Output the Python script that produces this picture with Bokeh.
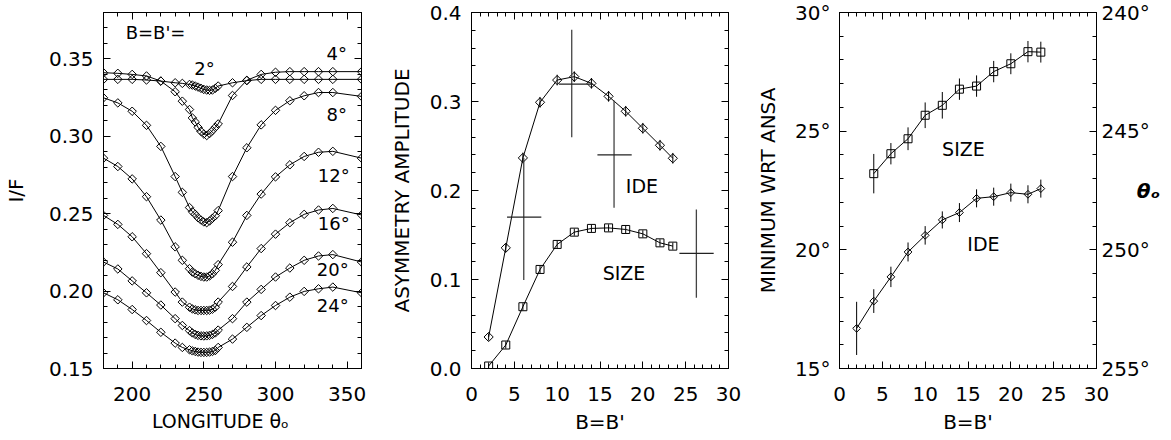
import numpy as np
from bokeh.plotting import figure
from bokeh.models import Range1d, LinearAxis, FixedTicker, Label, PrintfTickFormatter
from bokeh.layouts import row
from bokeh.embed import file_html
from bokeh.resources import INLINE

FONT = "DejaVu Sans"

# ---------------- Panel 1 data: I/F vs longitude for several B=B' ----------------
lon = [180, 190, 200, 210, 220, 230, 235, 240, 242, 244, 246, 248, 250, 252, 254,
       256, 258, 260, 270, 280, 290, 300, 310, 320, 330, 340, 360]
if_02 = [0.3368, 0.3368, 0.3368, 0.3364, 0.3357, 0.3346, 0.3342, 0.3335, 0.3331, 0.3325, 0.3318,
         0.3310, 0.3303, 0.3299, 0.3297, 0.3299, 0.3310, 0.3325, 0.3346, 0.3360, 0.3368, 0.3368,
         0.3368, 0.3368, 0.3368, 0.3368, 0.3368]
if_04 = [0.3411, 0.3407, 0.3400, 0.3390, 0.3357, 0.3288, 0.3227, 0.3173, 0.3119, 0.3093, 0.3058,
         0.3032, 0.3015, 0.3005, 0.3018, 0.3037, 0.3058, 0.3080, 0.3264, 0.3362, 0.3400, 0.3414,
         0.3418, 0.3418, 0.3418, 0.3418, 0.3418]
if_08 = [0.3249, 0.3216, 0.3162, 0.3071, 0.2935, 0.2740, 0.2638, 0.2540, 0.2513, 0.2496, 0.2474,
         0.2459, 0.2447, 0.2442, 0.2453, 0.2470, 0.2487, 0.2520, 0.2740, 0.2926, 0.3074, 0.3168,
         0.3230, 0.3262, 0.3283, 0.3283, 0.3258]
if_12 = [0.2859, 0.2805, 0.2725, 0.2610, 0.2459, 0.2286, 0.2199, 0.2145, 0.2123, 0.2112, 0.2102,
         0.2095, 0.2091, 0.2091, 0.2098, 0.2112, 0.2134, 0.2171, 0.2316, 0.2489, 0.2627, 0.2738,
         0.2816, 0.2870, 0.2897, 0.2903, 0.2859]
if_16 = [0.2489, 0.2431, 0.2351, 0.2242, 0.2119, 0.1994, 0.1929, 0.1896, 0.1885, 0.1879, 0.1875,
         0.1875, 0.1875, 0.1875, 0.1877, 0.1883, 0.1896, 0.1929, 0.2030, 0.2156, 0.2275, 0.2368,
         0.2442, 0.2496, 0.2524, 0.2534, 0.2492]
if_20 = [0.2188, 0.2143, 0.2066, 0.1989, 0.1910, 0.1822, 0.1778, 0.1745, 0.1730, 0.1720, 0.1714,
         0.1711, 0.1710, 0.1711, 0.1714, 0.1720, 0.1730, 0.1748, 0.1822, 0.1929, 0.2011, 0.2091,
         0.2149, 0.2199, 0.2227, 0.2236, 0.2188]
if_24 = [0.1989, 0.1944, 0.1881, 0.1810, 0.1734, 0.1664, 0.1636, 0.1621, 0.1614, 0.1610, 0.1606,
         0.1604, 0.1604, 0.1604, 0.1606, 0.1610, 0.1616, 0.1636, 0.1690, 0.1766, 0.1842, 0.1907,
         0.1961, 0.1998, 0.2015, 0.2026, 0.1989]
p1_curves = [if_02, if_04, if_08, if_12, if_16, if_20, if_24]
p1_lbl_text = ["B=B'=", "4°", "2°", "8°", "12°", "16°", "20°", "24°"]
p1_lbl_x = [216.3, 342.7, 250.5, 342.7, 340.6, 340.6, 339.9, 339.9]
p1_lbl_y = [0.3668, 0.3538, 0.3441, 0.3144, 0.2744, 0.2434, 0.2137, 0.1904]
p1_xticks = [200, 250, 300, 350]
p1_yticks = [0.15, 0.20, 0.25, 0.30, 0.35]

# ---------------- Panel 2 data: asymmetry amplitude ----------------
b2 = [2, 4, 6, 8, 10, 12, 14, 16, 18, 20, 22, 23.5]
amp_ide = [0.0354, 0.1356, 0.2366, 0.2991, 0.3241, 0.3279, 0.3204, 0.3058, 0.2890, 0.2699, 0.2508, 0.2362]
amp_ide_err = [0.004, 0.005, 0.006, 0.006, 0.006, 0.006, 0.006, 0.006, 0.006, 0.006, 0.006, 0.006]
amp_size = [0.0028, 0.0264, 0.0694, 0.1113, 0.1394, 0.1532, 0.1574, 0.1580, 0.1562, 0.1513, 0.1412, 0.1375]
amp_size_err = [0.004, 0.004, 0.004, 0.004, 0.004, 0.004, 0.004, 0.004, 0.004, 0.004, 0.004, 0.004]
cross_vx = [6.1, 11.7, 16.64, 26.25]
cross_ylo = [0.0993, 0.2598, 0.1805, 0.0795]
cross_yhi = [0.2366, 0.3807, 0.3010, 0.1787]
cross_hx = [6.15, 12.2, 16.7, 26.27]
cross_hy = [0.1700, 0.3196, 0.2400, 0.1293]
cross_hdx = [2.0, 2.0, 2.0, 2.0]
p2_lbl_text = ["IDE", "SIZE"]
p2_lbl_x = [19.9, 17.8]
p2_lbl_y = [0.2048, 0.1078]

# ---------------- Panel 3 data: minimum wrt ansa ----------------
b3_ide = [2, 4, 6, 8, 10, 12, 14, 16, 18, 20, 22, 23.5]
min_ide = [16.69, 17.84, 18.86, 19.91, 20.61, 21.26, 21.57, 22.17, 22.24, 22.41, 22.34, 22.58]
min_ide_err = [1.12, 0.50, 0.43, 0.40, 0.39, 0.36, 0.40, 0.38, 0.38, 0.38, 0.38, 0.38]
b3_size = [4, 6, 8, 10, 12, 14, 16, 18, 20, 22, 23.5]
min_size = [23.21, 24.05, 24.68, 25.67, 26.09, 26.77, 26.90, 27.51, 27.84, 28.35, 28.33]
min_size_err = [0.83, 0.45, 0.48, 0.54, 0.56, 0.45, 0.45, 0.45, 0.44, 0.45, 0.44]
p3_lbl_text = ["SIZE", "IDE"]
p3_lbl_x = [14.47, 16.8]
p3_lbl_y = [24.25, 20.23]

NBSP = "\u00a0"


def make_fig(xr, yr, fw, bl, br):
    p = figure(x_range=Range1d(*xr), y_range=Range1d(*yr), frame_width=fw, frame_height=356,
               min_border_left=bl, min_border_right=br, min_border_top=12, min_border_bottom=72,
               toolbar_location=None, output_backend="svg",
               x_axis_location=None, y_axis_location=None)
    p.grid.visible = False
    p.outline_line_color = "black"
    p.outline_line_width = 1
    p.background_fill_color = "white"
    p.border_fill_color = "white"
    return p


def add_axis(p, side, ticks, minor, fmt=None, label=None, label_standoff=10,
             axis_label_standoff=10, y_range_name=None, label_size="20px",
             label_style="normal", label_orient=None):
    kw = {}
    if y_range_name is not None:
        kw["y_range_name"] = y_range_name
    ax = LinearAxis(ticker=FixedTicker(ticks=ticks, minor_ticks=minor), **kw)
    ax.major_tick_in = 7
    ax.major_tick_out = 0
    ax.minor_tick_in = 4
    ax.minor_tick_out = 0
    ax.axis_line_color = "black"
    ax.major_tick_line_color = "black"
    ax.minor_tick_line_color = "black"
    if fmt is not None:
        ax.formatter = PrintfTickFormatter(format=fmt)
        ax.major_label_text_font = FONT
        ax.major_label_text_font_size = "20px"
        ax.major_label_text_color = "black"
        ax.major_label_standoff = label_standoff
    else:
        ax.major_label_text_color = None
        ax.major_label_standoff = 0
    if label is not None:
        ax.axis_label = label
        ax.axis_label_text_font = FONT
        ax.axis_label_text_font_size = label_size
        ax.axis_label_text_font_style = label_style
        ax.axis_label_text_color = "black"
        ax.axis_label_standoff = axis_label_standoff
        if label_orient is not None:
            ax.axis_label_orientation = label_orient
    p.add_layout(ax, side)
    return ax


def add_label(p, text, x, y, size="18px"):
    p.add_layout(Label(x=x, y=y, text=text, text_font=FONT, text_font_size=size,
                       text_align="center", text_baseline="middle", text_color="black"))


# ---------------- Panel 1 ----------------
p1 = make_fig((180, 360), (0.15, 0.38), 258, 100, 20)
add_axis(p1, "below", p1_xticks, list(range(180, 361, 10)), fmt="%d", label_standoff=18,
         label="LONGITUDE θₒ" + NBSP * 4, axis_label_standoff=6, label_size="19px")
add_axis(p1, "above", p1_xticks, list(range(180, 361, 10)))
ymin1 = [round(0.15 + 0.01 * i, 2) for i in range(24)]
add_axis(p1, "left", p1_yticks, ymin1, fmt="%.2f", label="I/F", label_standoff=10,
         axis_label_standoff=18)
add_axis(p1, "right", p1_yticks, ymin1)
for c in p1_curves:
    p1.line(lon, c, line_color="black", line_width=1)
    p1.scatter(lon, c, marker="square", angle=np.pi / 4, size=6, fill_color=None,
               line_color="black", line_width=1)
for t, x, y in zip(p1_lbl_text, p1_lbl_x, p1_lbl_y):
    add_label(p1, t, x, y, size="18px")

# ---------------- Panel 2 ----------------
p2 = make_fig((0, 30), (0, 0.4), 257, 90, 20)
add_axis(p2, "below", list(range(0, 31, 5)), list(range(0, 31)), fmt="%d", label="B=B'",
         label_standoff=18, axis_label_standoff=6)
add_axis(p2, "above", list(range(0, 31, 5)), list(range(0, 31)))
ymin2 = [round(0.02 * i, 2) for i in range(21)]
add_axis(p2, "left", [0.0, 0.1, 0.2, 0.3, 0.4], ymin2, fmt="%.1f", label="ASYMMETRY AMPLITUDE",
         label_standoff=10, axis_label_standoff=13)
add_axis(p2, "right", [0.0, 0.1, 0.2, 0.3, 0.4], ymin2)

a_ide = np.array(amp_ide); e_ide = np.array(amp_ide_err)
a_size = np.array(amp_size); e_size = np.array(amp_size_err)
p2.line(b2, amp_ide, line_color="black", line_width=1)
p2.segment(b2, a_ide - e_ide, b2, a_ide + e_ide, line_color="black", line_width=1)
p2.scatter(b2, amp_ide, marker="square", angle=np.pi / 4, size=6.5, fill_color=None,
           line_color="black", line_width=1)
p2.line(b2, amp_size, line_color="black", line_width=1)
p2.segment(b2, a_size - e_size, b2, a_size + e_size, line_color="black", line_width=1)
p2.scatter(b2, amp_size, marker="square", size=8, fill_color=None, line_color="black", line_width=1)
hx = np.array(cross_hx); hdx = np.array(cross_hdx)
p2.segment(cross_vx, cross_ylo, cross_vx, cross_yhi, line_color="#444444", line_width=1.3)
p2.segment(hx - hdx, cross_hy, hx + hdx, cross_hy, line_color="#222222", line_width=1.3)
for t, x, y in zip(p2_lbl_text, p2_lbl_x, p2_lbl_y):
    add_label(p2, t, x, y, size="19px")

# ---------------- Panel 3 ----------------
p3 = make_fig((0, 30), (15, 30), 257, 91, 78)
p3.extra_y_ranges = {"theta": Range1d(start=255, end=240)}
add_axis(p3, "below", list(range(0, 31, 5)), list(range(0, 31)), fmt="%d", label="B=B'",
         label_standoff=18, axis_label_standoff=6)
add_axis(p3, "above", list(range(0, 31, 5)), list(range(0, 31)))
add_axis(p3, "left", [15, 20, 25, 30], list(range(15, 31)), fmt="%d°", label="MINIMUM WRT ANSA",
         label_standoff=9, axis_label_standoff=12)
add_axis(p3, "right", [240, 245, 250, 255], list(range(240, 256)), fmt="%d°", label_standoff=5,
         y_range_name="theta", label="θₒ", axis_label_standoff=-16, label_style="bold italic",
         label_orient="horizontal")

m_ide = np.array(min_ide); me_ide = np.array(min_ide_err)
m_size = np.array(min_size); me_size = np.array(min_size_err)
p3.line(b3_size, min_size, line_color="black", line_width=1)
p3.segment(b3_size, m_size - me_size, b3_size, m_size + me_size, line_color="black", line_width=1)
p3.scatter(b3_size, min_size, marker="square", size=8, fill_color=None, line_color="black", line_width=1)
p3.line(b3_ide, min_ide, line_color="black", line_width=1)
p3.segment(b3_ide, m_ide - me_ide, b3_ide, m_ide + me_ide, line_color="black", line_width=1)
p3.scatter(b3_ide, min_ide, marker="square", angle=np.pi / 4, size=5.5, fill_color=None,
           line_color="black", line_width=1)
for t, x, y in zip(p3_lbl_text, p3_lbl_x, p3_lbl_y):
    add_label(p3, t, x, y, size="19px")

layout = row(p1, p2, p3)
open("out.html", "w").write(file_html(layout, INLINE))
